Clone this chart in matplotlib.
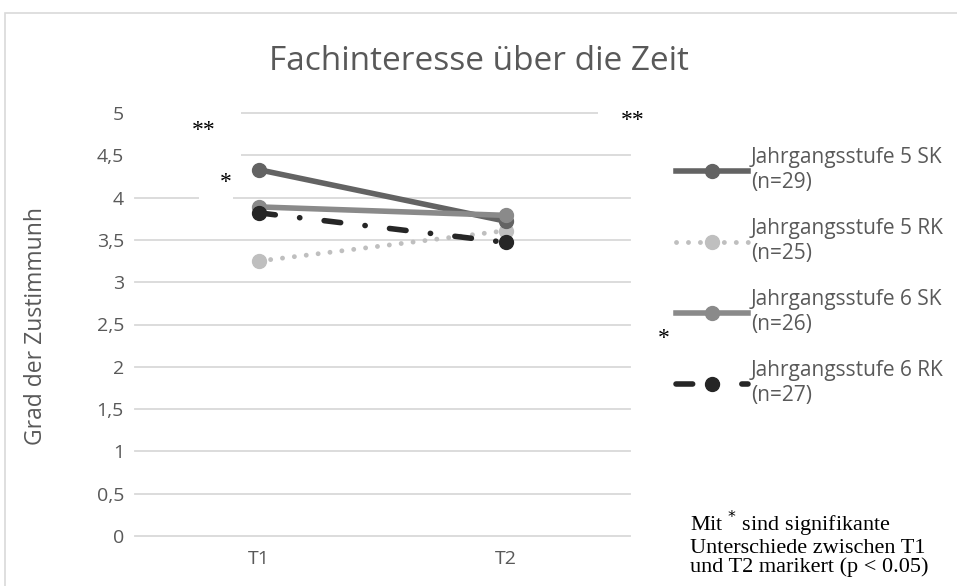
import matplotlib.pyplot as plt
from matplotlib.patches import Rectangle

# ---------- data ----------
zeitpunkte = ["T1", "T2"]
gruppen = ["Jahrgangsstufe 5 SK\n(n=29)", "Jahrgangsstufe 5 RK\n(n=25)",
           "Jahrgangsstufe 6 SK\n(n=26)", "Jahrgangsstufe 6 RK\n(n=27)"]
stufe5_sk = [4.33, 3.72]
stufe5_rk = [3.25, 3.61]
stufe6_sk = [3.89, 3.79]
stufe6_rk = [3.82, 3.47]
y_ticks = [0, 0.5, 1, 1.5, 2, 2.5, 3, 3.5, 4, 4.5, 5]
y_ticklabels = ["0", "0,5", "1", "1,5", "2", "2,5", "3", "3,5", "4", "4,5", "5"]

txt = "#595959"
W, H = 957, 586
plt.rcParams["font.family"] = ["Open Sans", "DejaVu Sans"]

fig = plt.figure(figsize=(W / 100, H / 100), dpi=100)
# outer chart border
fig.patches.append(Rectangle((5 / W, -0.05), 1.0, 1 - 13 / H + 0.05,
                             transform=fig.transFigure, fill=False,
                             edgecolor="#d9d9d9", lw=1.2))

ax = fig.add_axes([135 / W, 1 - 536 / H, (630 - 135) / W, (536 - 113) / H])
x = range(len(zeitpunkte))

ax.plot(x, stufe5_sk, color="#636363", lw=4, marker="o", ms=10, label=gruppen[0], zorder=4)
ax.plot(x, stufe5_rk, color="#bfbfbf", lw=3.5, ls=(0, (0.01, 2.45)), dash_capstyle="round",
        marker="o", ms=10, label=gruppen[1], zorder=3)
ax.plot(x, stufe6_sk, color="#8a8a8a", lw=4, marker="o", ms=10, label=gruppen[2], zorder=5)
ax.plot(x, stufe6_rk, color="#262626", lw=4, ls=(0, (3.0, 4.4, 0.05, 4.4)), dash_capstyle="round",
        marker="o", ms=10, label=gruppen[3], zorder=6)

ax.set_xlim(-0.5, 1.5)
ax.set_ylim(0, 5)
ax.set_yticks(y_ticks)
ax.set_yticklabels(y_ticklabels)
ax.set_xticks(list(x))
ax.set_xticklabels(zeitpunkte)
ax.tick_params(length=0, labelsize=14, colors=txt)
ax.tick_params(axis="y", pad=8)
ax.tick_params(axis="x", pad=10)
ax.grid(axis="y", color="#d9d9d9", lw=1.3)
ax.set_axisbelow(True)
for s in ax.spines.values():
    s.set_visible(False)
for gl in ax.get_ygridlines():
    gl.set_clip_on(False)

# white boxes behind the stars cut the gridlines
for (x0, y0, x1, y1) in [(130, 100, 241, 162), (199, 168, 233, 203), (598, 100, 640, 125)]:
    ax.add_patch(Rectangle((x0 / W, 1 - y1 / H), (x1 - x0) / W, (y1 - y0) / H,
                           transform=fig.transFigure, facecolor="white",
                           edgecolor="none", zorder=1, clip_on=False))

ax.set_ylabel("Grad der Zustimmunh", fontsize=16.5, color=txt)
ax.yaxis.set_label_coords(48 / W, 1 - 326 / H, transform=fig.transFigure)
fig.text(0.5, 1 - 61 / H, "Fachinteresse über die Zeit", fontsize=24,
         color=txt, ha="center", va="center")

leg = ax.legend(loc="upper left", bbox_to_anchor=(676 / W, 1 - 147 / H),
                bbox_transform=fig.transFigure, frameon=False, fontsize=15,
                labelcolor=txt, handlelength=3.45, handletextpad=0.15,
                labelspacing=1.2, borderpad=0, borderaxespad=0)
for t in leg.get_texts():
    t.set_linespacing(1.25)

# significance stars
star = dict(family="Liberation Serif", color="black", ha="center", va="center")
fig.text(204 / W, 1 - 131 / H, "**", fontsize=17, **star)
fig.text(226 / W, 1 - 183 / H, "*", fontsize=17, **star)
fig.text(633 / W, 1 - 121 / H, "**", fontsize=17, **star)
fig.text(664 / W, 1 - 338 / H, "*", fontsize=17, **star)

fig.text(690 / W, 1 - 543 / H,
         "Mit $^{*}$ sind signifikante\nUnterschiede zwischen T1\nund T2 marikert (p < 0.05)",
         family="Liberation Serif", fontsize=16, color="black", ha="left",
         va="center", linespacing=1.0)

fig.savefig("out.png", dpi=100)
